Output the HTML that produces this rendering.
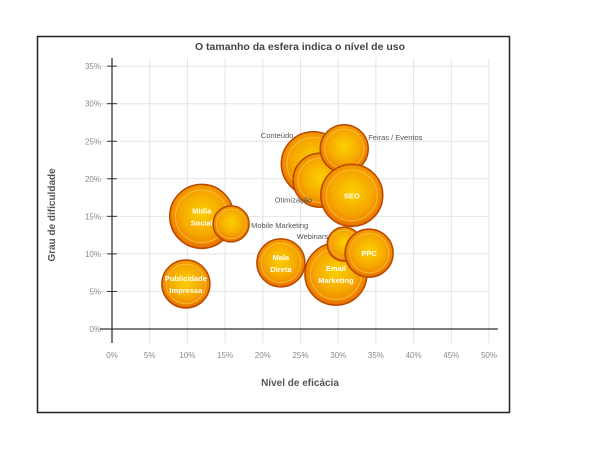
<!DOCTYPE html>
<html><head><meta charset="utf-8"><style>
body{margin:0;background:#fff;width:600px;height:450px;overflow:hidden;font-family:"Liberation Sans",sans-serif}
</style></head><body>
<svg id="chart" width="600" height="450" xmlns="http://www.w3.org/2000/svg">
<defs>
<radialGradient id="bg" cx="50%" cy="45%" r="55%">
<stop offset="0" stop-color="#fbd000"/><stop offset="0.6" stop-color="#f6a800"/><stop offset="0.85" stop-color="#f08a00"/><stop offset="1" stop-color="#e06800"/>
</radialGradient>
</defs>
<rect x="37.5" y="36.5" width="472" height="376" fill="#fff" stroke="#222" stroke-width="1.5"/>
<text x="300" y="50" text-anchor="middle" font-size="10.5" font-weight="bold" fill="#444">O tamanho da esfera indica o nível de uso</text>
<g id="grid"></g><g id="axes"></g><g id="bubbles"></g>
<text x="300" y="386" text-anchor="middle" font-size="10" font-weight="bold" fill="#555">Nível de eficácia</text>
<text transform="translate(55,215) rotate(-90)" text-anchor="middle" font-size="10" font-weight="bold" fill="#555">Grau de dificuldade</text>
</svg>
<script>
const names=["Conteúdo","Otimização","Feiras / Eventos","SEO","Publicidade Impressa","Mídia Social","Mobile Marketing","Mala Direta","Email Marketing","Webinars","PPC"];
const effic=[26.7,27.6,30.8,31.8,9.8,11.9,15.8,22.4,29.7,30.8,34.1];
const diffic=[22.0,19.8,24.0,17.8,6.0,15.0,14.0,8.8,7.3,11.3,10.1];
const usage=[32,27,24,31,24,32,18,24,31,17,24];
const xTicks=[0,5,10,15,20,25,30,35,40,45,50];
const yTicks=[0,5,10,15,20,25,30,35];
const inside=[null,null,null,["SEO"],["Publicidade","Impressa"],["Midia","Social"],null,["Mala","Direta"],["Email","Marketing"],null,["PPC"]];
const outside={0:[-20,-26,"end"],1:[-8,22,"end"],2:[24,-9,"start"],6:[20,4,"start"],9:[-16,-5,"end"]};
const X=v=>112+v*7.54, Y=v=>329-v*7.51;
const ns="http://www.w3.org/2000/svg";
function mk(t,a,p){const e=document.createElementNS(ns,t);for(const k in a)e.setAttribute(k,a[k]);p.appendChild(e);return e;}
const g=document.getElementById('grid'),ax=document.getElementById('axes'),bb=document.getElementById('bubbles');
xTicks.forEach(t=>{if(t>0){const l=mk('line',{x1:X(t),x2:X(t),y1:58,y2:343,stroke:'#e4e4e4'},g);}
const tx=mk('text',{x:X(t),y:358,'text-anchor':'middle','font-size':8,fill:'#888'},ax);tx.textContent=t+'%';
});
yTicks.forEach(t=>{if(t>0){const l=mk('line',{x1:100,x2:489,y1:Y(t),y2:Y(t),stroke:'#e4e4e4'},g);}
mk('line',{x1:107,x2:117,y1:Y(t),y2:Y(t),stroke:'#333'},ax);
const tx=mk('text',{x:101,y:Y(t)+3,'text-anchor':'end','font-size':8,fill:'#888'},ax);tx.textContent=t+'%';
});
let a=mk('line',{x1:112,x2:112,y1:58,y2:343,stroke:'#333','stroke-width':1.3},ax);
a=mk('line',{x1:100,x2:498,y1:329,y2:329,stroke:'#333','stroke-width':1.3},ax);
names.forEach((n,i)=>{const cx=X(effic[i]),cy=Y(diffic[i]),r=usage[i];
const grp=mk('g',{},bb);
mk('circle',{cx,cy,r,fill:'url(#bg)',stroke:'#b84800','stroke-width':1.5},grp);
mk('circle',{cx,cy,r:r*0.82,fill:'none',stroke:'#fbc850','stroke-width':1,opacity:0.7},grp);
if(inside[i]){const L=inside[i];L.forEach((s,j)=>{const t=mk('text',{x:cx,y:cy+3+(j-(L.length-1)/2)*12,'text-anchor':'middle','font-size':7.5,'font-weight':'bold',fill:'#fff'},grp);t.textContent=s;});}
if(outside[i]){const o=outside[i];const t=mk('text',{x:cx+o[0],y:cy+o[1],'text-anchor':o[2],'font-size':7.5,fill:'#555'},grp);t.textContent=n;}
});
</script>
</body></html>
